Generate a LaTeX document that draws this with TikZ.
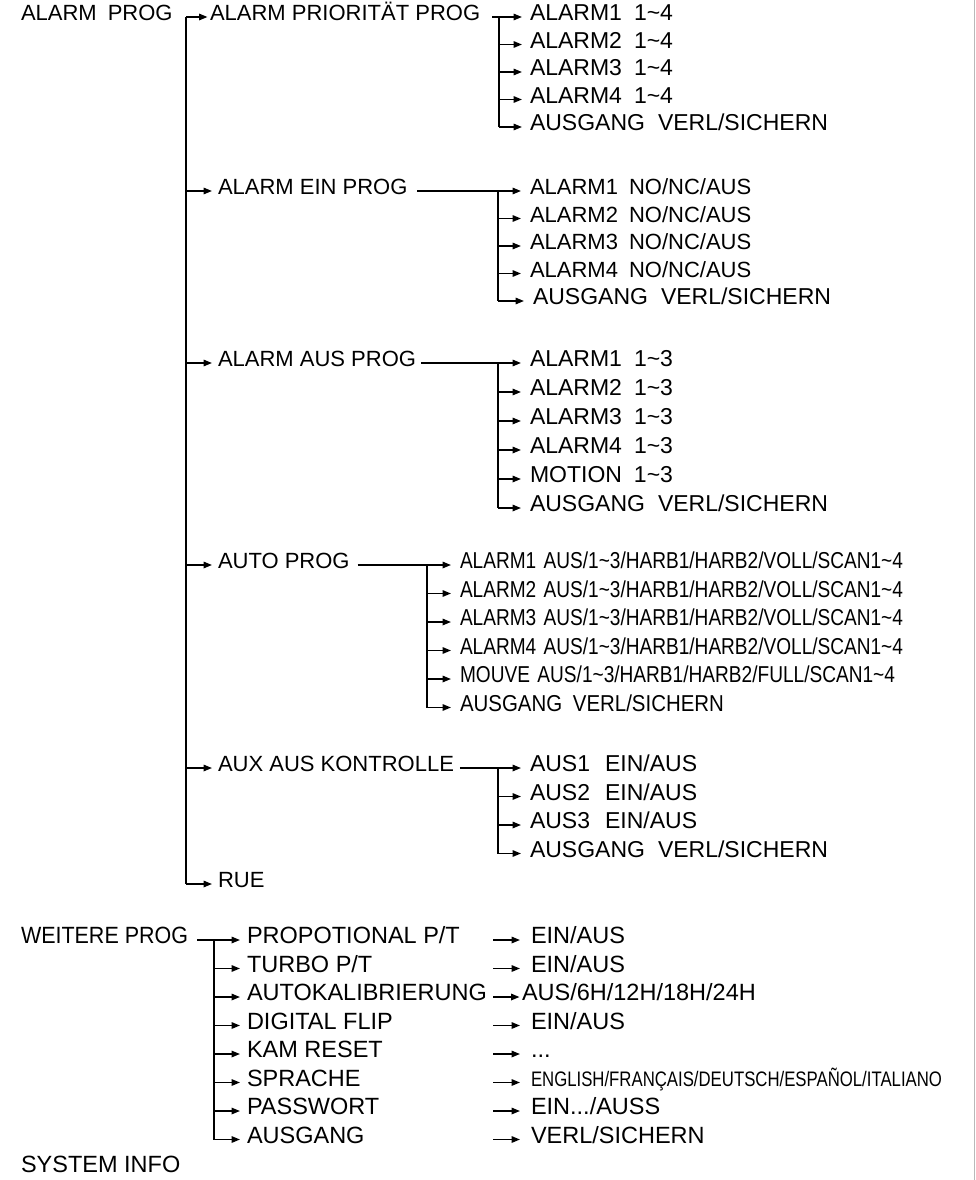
\documentclass[tikz,border=0pt]{standalone}
\usepackage{graphicx}
\usepackage{fontspec}
\setmainfont{Liberation Sans}
\usetikzlibrary{arrows.meta}
\newcommand{\tld}{\textasciitilde}
\newcommand{\fitw}[2]{\resizebox{#1pt}{\height}{#2}}
\begin{document}
\begin{tikzpicture}[x=1pt,y=-1pt,
  lbl/.style={inner sep=0pt, outer sep=0pt, anchor=west, text height=0.72em, text depth=0pt, font=\fontsize{22}{24}\selectfont},
  itm/.style={lbl, font=\fontsize{23}{25}\selectfont},
  big/.style={lbl, font=\fontsize{23.5}{26}\selectfont},
  ln/.style={line width=1.6pt},
  arr/.style={ln, -{Triangle[length=8.5pt,width=6.5pt]}, shorten >=6pt},
  arrn/.style={arr, shorten >=2.5pt},
  arrf/.style={arr, shorten >=11pt}]
\useasboundingbox (0,0) rectangle (976,1180);
\fill[white] (0,0) rectangle (976,1180);
\draw[gray!55, line width=1.6pt] (974.6,0) -- (974.6,1180);

% top level
\node[lbl] (ap) at (21,17) {ALARM\hspace{11pt}PROG};
\node[lbl] (pri) at (210,17) {ALARM PRIORITÄT PROG};
\node[lbl] (ein) at (218,191) {ALARM EIN PROG};
\node[lbl] (aus) at (218,363) {ALARM AUS PROG};
\node[lbl] (auto) at (218,565) {AUTO PROG};
\node[lbl] (aux) at (218,768) {AUX AUS KONTROLLE};
\node[lbl] (rue) at (218,884) {RUE};
\coordinate (b0) at (186,0);
\draw[ln] (b0 |- pri.west) -- (b0 |- rue.west);
\draw[arrn] (b0 |- pri.west) -- (pri.west);
\foreach \n in {ein,aus,auto,aux,rue} \draw[arr] (b0 |- \n.west) -- (\n.west);

% group 1
\node[itm] (g1a) at (530,17) {ALARM1\hspace{12pt}1\tld 4};
\node[itm] (g1b) at (530,44.5) {ALARM2\hspace{12pt}1\tld 4};
\node[itm] (g1c) at (530,72) {ALARM3\hspace{12pt}1\tld 4};
\node[itm] (g1d) at (530,99.5) {ALARM4\hspace{12pt}1\tld 4};
\node[itm] (g1e) at (530,127) {AUSGANG\hspace{13pt}VERL/SICHERN};
\coordinate (b1) at (499,0);
\draw[ln] ([xshift=12pt]pri.east) -- (b1 |- pri.east) -- (b1 |- g1e.west);
\foreach \n in {g1a,g1b,g1c,g1d,g1e} \draw[arr, shorten >=8pt] (b1 |- \n.west) -- (\n.west);

% group 2
\node[lbl] (g2a) at (530,191) {ALARM1\hspace{11pt}NO/NC/AUS};
\node[lbl] (g2b) at (530,218.5) {ALARM2\hspace{11pt}NO/NC/AUS};
\node[lbl] (g2c) at (530,246) {ALARM3\hspace{11pt}NO/NC/AUS};
\node[lbl] (g2d) at (530,273.5) {ALARM4\hspace{11pt}NO/NC/AUS};
\node[itm] (g2e) at (533,301) {AUSGANG\hspace{13pt}VERL/SICHERN};
\coordinate (b2) at (498,0);
\draw[ln] ([xshift=10pt]ein.east) -- (b2 |- ein.east) -- (b2 |- g2e.west);
\foreach \n in {g2a,g2b,g2c,g2d,g2e} \draw[arr, shorten >=9pt] (b2 |- \n.west) -- (\n.west);

% group 3
\node[itm] (g3a) at (530,363) {ALARM1\hspace{12pt}1\tld 3};
\node[itm] (g3b) at (530,392) {ALARM2\hspace{12pt}1\tld 3};
\node[itm] (g3c) at (530,421) {ALARM3\hspace{12pt}1\tld 3};
\node[itm] (g3d) at (530,450) {ALARM4\hspace{12pt}1\tld 3};
\node[itm] (g3e) at (530,479) {MOTION\hspace{12pt}1\tld 3};
\node[itm] (g3f) at (530,508) {AUSGANG\hspace{13pt}VERL/SICHERN};
\coordinate (b3) at (498,0);
\draw[ln] ([xshift=5pt]aus.east) -- (b3 |- aus.east) -- (b3 |- g3f.west);
\foreach \n in {g3a,g3b,g3c,g3d,g3e,g3f} \draw[arr, shorten >=9pt] (b3 |- \n.west) -- (\n.west);

% group 4
\node[itm] (g4a) at (460,565) {\fitw{443}{ALARM1\hspace{9pt}AUS/1\tld 3/HARB1/HARB2/VOLL/SCAN1\tld 4}};
\node[itm] (g4b) at (460,593.5) {\fitw{443}{ALARM2\hspace{9pt}AUS/1\tld 3/HARB1/HARB2/VOLL/SCAN1\tld 4}};
\node[itm] (g4c) at (460,622) {\fitw{443}{ALARM3\hspace{9pt}AUS/1\tld 3/HARB1/HARB2/VOLL/SCAN1\tld 4}};
\node[itm] (g4d) at (460,650.5) {\fitw{443}{ALARM4\hspace{9pt}AUS/1\tld 3/HARB1/HARB2/VOLL/SCAN1\tld 4}};
\node[itm] (g4e) at (460,679) {\fitw{435}{MOUVE\hspace{9pt}AUS/1\tld 3/HARB1/HARB2/FULL/SCAN1\tld 4}};
\node[itm] (g4f) at (460,707.5) {\fitw{264}{AUSGANG\hspace{12pt}VERL/SICHERN}};
\coordinate (b4) at (427,0);
\draw[ln] ([xshift=8pt]auto.east) -- (b4 |- auto.east) -- (b4 |- g4f.west);
\foreach \n in {g4a,g4b,g4c,g4d,g4e,g4f} \draw[arr, shorten >=9pt] (b4 |- \n.west) -- (\n.west);

% group 5
\node[itm] (g5a) at (530,768) {AUS1\hspace{15pt}EIN/AUS};
\node[itm] (g5b) at (530,796.5) {AUS2\hspace{15pt}EIN/AUS};
\node[itm] (g5c) at (530,825) {AUS3\hspace{15pt}EIN/AUS};
\node[itm] (g5d) at (530,853.5) {AUSGANG\hspace{13pt}VERL/SICHERN};
\coordinate (b5) at (498,0);
\draw[ln] ([xshift=6pt]aux.east) -- (b5 |- aux.east) -- (b5 |- g5d.west);
\foreach \n in {g5a,g5b,g5c,g5d} \draw[arr, shorten >=9pt] (b5 |- \n.west) -- (\n.west);

% group 6
\node[big] (wei) at (21,940) {\fitw{167}{WEITERE PROG}};
\node[big] (w1) at (247,940) {PROPOTIONAL P/T};
\node[big] (w2) at (247,968.5) {TURBO P/T};
\node[big] (w3) at (247,997) {AUTOKALIBRIERUNG};
\node[big] (w4) at (247,1025.5) {DIGITAL FLIP};
\node[big] (w5) at (247,1054) {KAM RESET};
\node[big] (w6) at (247,1082.5) {SPRACHE};
\node[big] (w7) at (247,1111) {PASSWORT};
\node[big] (w8) at (247,1139.5) {AUSGANG};
\node[big] (sys) at (21,1169) {SYSTEM INFO};
\coordinate (b6) at (214,0);
\draw[ln] ([xshift=9pt]wei.east) -- (b6 |- wei.east) -- (b6 |- w8.west);
\foreach \n in {w1,w2,w3,w4,w5,w6,w7,w8} \draw[arr, shorten >=7pt] (b6 |- \n.west) -- (\n.west);

% third column
\node[big] (v1) at (531,940) {EIN/AUS};
\node[big] (v2) at (531,968.5) {EIN/AUS};
\node[big] (v3) at (522,997) {AUS/6H/12H/18H/24H};
\node[big] (v4) at (531,1025.5) {EIN/AUS};
\node[big] (v5) at (531,1054) {...};
\node[big] (v6) at (531,1082.5) {\fitw{411}{\fontsize{21}{24}\selectfont ENGLISH/FRANÇAIS/DEUTSCH/ESPAÑOL/ITALIANO}};
\node[big] (v7) at (531,1111) {EIN.../AUSS};
\node[big] (v8) at (531,1139.5) {VERL/SICHERN};
\coordinate (c3) at (493,0);
\foreach \n in {v1,v2,v4,v5,v6,v7,v8} \draw[arrf] (c3 |- \n.west) -- (\n.west);
\draw[arrn] (c3 |- v3.west) -- (v3.west);
\end{tikzpicture}
\end{document}
